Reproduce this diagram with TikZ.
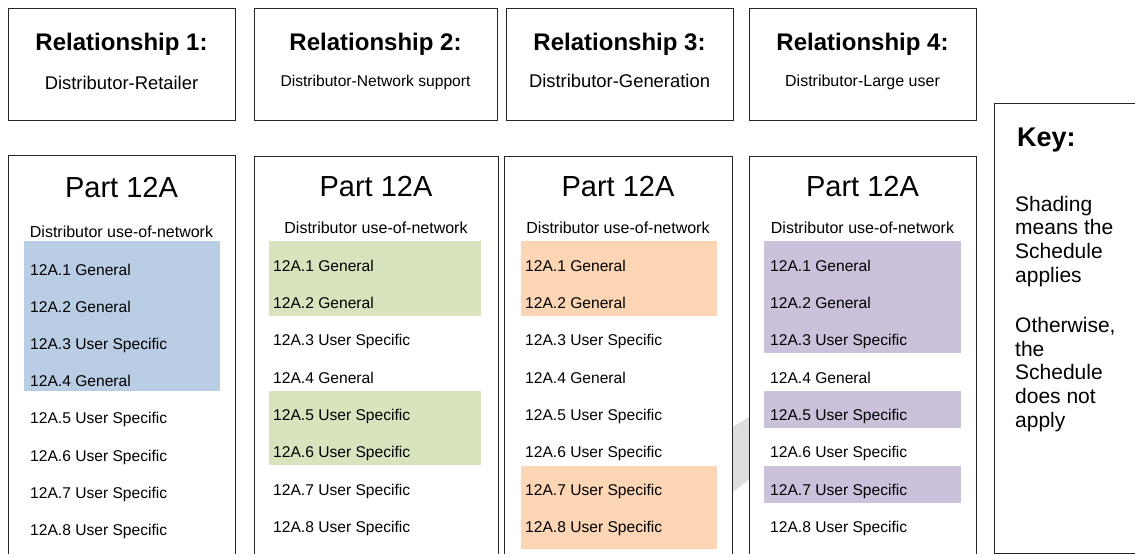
\documentclass[tikz,border=0pt]{standalone}
\usepackage{fontspec}
\setmainfont{Liberation Sans}
\definecolor{shA}{HTML}{B9CDE5}
\definecolor{shB}{HTML}{D7E4BD}
\definecolor{shC}{HTML}{FCD5B5}
\definecolor{shD}{HTML}{CCC1DA}
\definecolor{wmark}{HTML}{DEDEDE}
\begin{document}
\begin{tikzpicture}[x=1pt,y=-1pt,
  box/.style={draw=black!85, line width=1pt, fill=white, anchor=north west, inner sep=0, rectangle},
  ttl/.style={font=\fontsize{24}{28}\selectfont\bfseries, anchor=base, inner sep=0},
  part/.style={font=\fontsize{29}{33}\selectfont, anchor=base, inner sep=0},
  dun/.style={font=\fontsize{16}{19}\selectfont, anchor=base, inner sep=0},
  item/.style={font=\fontsize{15.6}{18}\selectfont, anchor=base west, inner sep=0}
]
\useasboundingbox (0,0) rectangle (1135,554);
\clip (0,0) rectangle (1135,554);
\fill[white] (0,0) rectangle (1135,554);
% watermark fragment
\fill[wmark] (726,431) -- (754,414) -- (754,476) -- (726,497) -- cycle;
% top relationship boxes
\node[box, minimum width=227pt, minimum height=112pt] (r1) at (8,8) {};
\node[box, minimum width=243pt, minimum height=112pt] (r2) at (254,8) {};
\node[box, minimum width=227pt, minimum height=112pt] (r3) at (506,8) {};
\node[box, minimum width=227pt, minimum height=112pt] (r4) at (749,8) {};
\node[ttl] (r1t) at (121.5,50) {Relationship 1:};
\node[ttl] (r2t) at (375.5,50) {Relationship 2:};
\node[ttl] (r3t) at (619.5,50) {Relationship 3:};
\node[ttl] (r4t) at (862.5,50) {Relationship 4:};
\node[anchor=base, inner sep=0, font=\fontsize{18.4}{22}\selectfont] (r1s) at (121.5,89) {Distributor-Retailer};
\node[anchor=base, inner sep=0, font=\fontsize{15.6}{19}\selectfont] (r2s) at (375.5,86) {Distributor-Network support};
\node[anchor=base, inner sep=0, font=\fontsize{18.4}{22}\selectfont] (r3s) at (619.5,87) {Distributor-Generation};
\node[anchor=base, inner sep=0, font=\fontsize{16}{19}\selectfont] (r4s) at (862.5,86) {Distributor-Large user};
% bottom part boxes
\node[box, minimum width=227pt, minimum height=460pt] (p1) at (8,155) {};
\node[box, minimum width=244pt, minimum height=460pt] (p2) at (254,156) {};
\node[box, minimum width=228pt, minimum height=460pt] (p3) at (504,156) {};
\node[box, minimum width=227pt, minimum height=460pt] (p4) at (749,156) {};
% shading
\fill[shA] (24,241) rectangle (220,391);
\fill[shB] (269,241) rectangle (481,316);
\fill[shB] (269,391) rectangle (481,465);
\fill[shC] (521,241) rectangle (717,316);
\fill[shC] (521,466) rectangle (717,549);
\fill[shD] (764,241) rectangle (961,353);
\fill[shD] (764,391) rectangle (961,428);
\fill[shD] (764,466) rectangle (961,503);
% headings
\node[part] (p1h) at (121.5,197.5) {Part 12A};
\node[part] (p2h) at (376,196.5) {Part 12A};
\node[part] (p3h) at (618,196.5) {Part 12A};
\node[part] (p4h) at (862.5,196.5) {Part 12A};
\node[dun] (p1d) at (121.5,237) {Distributor use-of-network};
\node[dun] (p2d) at (376,233) {Distributor use-of-network};
\node[dun] (p3d) at (618,233) {Distributor use-of-network};
\node[dun] (p4d) at (862.5,233) {Distributor use-of-network};
% items
\foreach \b/\tx/\ty/\st in {1/30/275/37.2, 2/273/271/37.35, 3/525/271/37.35, 4/770/271/37.35} {
  \foreach \n/\t in {1/General, 2/General, 3/User Specific, 4/General, 5/User Specific, 6/User Specific, 7/User Specific, 8/User Specific} {
    \node[item] (p\b i\n) at (\tx,{\ty+\st*(\n-1)}) {12A.\n\ \t};
  }
}
% key
\node[box, minimum width=170pt, minimum height=450pt] (key) at (994,103) {};
\node[anchor=base west, inner sep=0, font=\fontsize{27}{30}\selectfont\bfseries] (keyt) at (1017,146) {Key:};
\node[anchor=base west, inner sep=0, align=left, font=\fontsize{21}{23.8}\selectfont] (keyb) at (1015,427.5) {Shading\\means the\\Schedule\\applies\\[26pt]Otherwise,\\the\\Schedule\\does not\\apply};
\end{tikzpicture}
\end{document}
